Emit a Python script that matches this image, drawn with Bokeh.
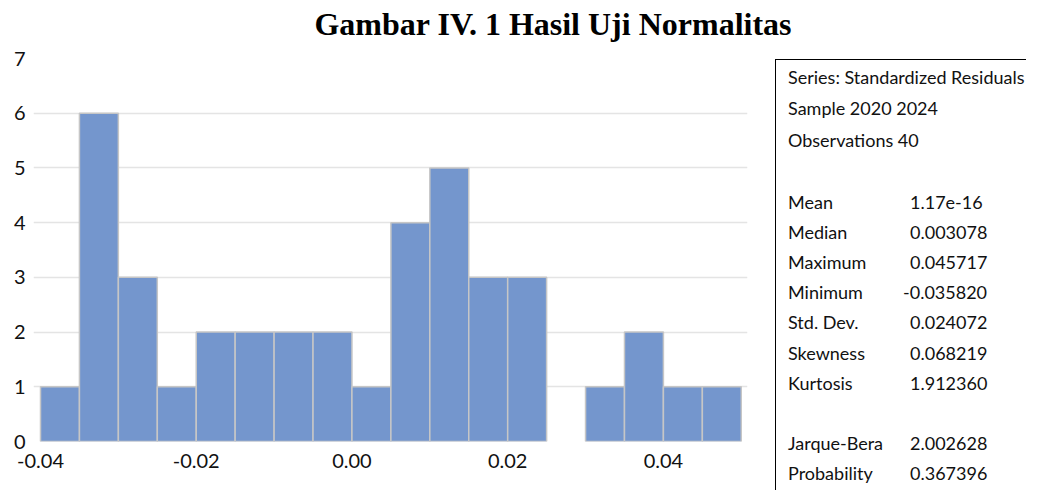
from bokeh.plotting import figure
from bokeh.layouts import column, row
from bokeh.models import FixedTicker, Div
from bokeh.embed import file_html
from bokeh.resources import INLINE

# ---- data ----
bin_left = [-0.040, -0.035, -0.030, -0.025, -0.020, -0.015, -0.010, -0.005, 0.000,
            0.005, 0.010, 0.015, 0.020, 0.025, 0.030, 0.035, 0.040, 0.045]
counts = [1, 6, 3, 1, 2, 2, 2, 2, 1, 4, 5, 3, 3, 0, 1, 2, 1, 1]
bin_width = 0.005
x_ticks = [-0.04, -0.02, 0.00, 0.02, 0.04]
x_tick_labels = ["-0.04", "-0.02", "0.00", "0.02", "0.04"]
y_ticks = [0, 1, 2, 3, 4, 5, 6, 7]
title_text = "Gambar IV. 1 Hasil Uji Normalitas"
header_lines = ["Series: Standardized Residuals", "Sample 2020 2024", "Observations 40"]
stat_names = ["Mean", "Median", "Maximum", "Minimum", "Std. Dev.", "Skewness", "Kurtosis",
              "Jarque-Bera", "Probability"]
stat_values = ["1.17e-16", "0.003078", "0.045717", "-0.035820", "0.024072", "0.068219",
               "1.912360", "2.002628", "0.367396"]

# ---- layout (picture pixel coordinates) ----
OX = 0          # horizontal offset of page content in the picture
W, H = 1021, 474
TH = 44         # title strip height
WA = 760        # histogram figure width
HA = H - TH
WB = W - WA
X0, X1 = -0.0409, 0.0508
FRAME_L, FRAME_R = 33, 747      # picture x of histogram frame
FRAME_T, FRAME_B = 57.6, 440.7  # picture y of histogram frame
TXT = "#111111"

# title strip
title_html = (
    f'<div style="position:relative;width:{W}px;height:{TH}px;">'
    f'<div style="position:absolute;left:{553 - OX}px;top:0px;transform:translateX(-50%);'
    f'white-space:nowrap;font-family:\'Liberation Serif\';font-weight:bold;font-size:32px;'
    f'line-height:32px;color:black;padding-top:8px;">{title_text}</div></div>'
)
ft = Div(text=title_html, width=W, height=TH, margin=0)

# histogram
fa = figure(width=WA, height=HA, x_range=(X0, X1), y_range=(0, 7),
            min_border_left=int(round(FRAME_L - OX)),
            min_border_right=int(round(OX + WA - FRAME_R)),
            min_border_top=int(round(FRAME_T - TH)),
            min_border_bottom=int(round(TH + HA - FRAME_B)),
            output_backend="svg", toolbar_location=None)
fa.outline_line_color = None
fa.background_fill_color = "white"
fa.border_fill_color = "white"
fa.xgrid.visible = False
fa.ygrid.grid_line_color = "#E4E4E4"
fa.ygrid.grid_line_width = 1.5
for ax in (fa.xaxis[0], fa.yaxis[0]):
    ax.axis_line_color = None
    ax.major_tick_line_color = None
    ax.minor_tick_line_color = None
    ax.major_tick_out = 0
    ax.major_tick_in = 0
    ax.minor_tick_out = 0
    ax.major_label_text_font = "Lato"
    ax.major_label_text_font_size = "20px"
    ax.major_label_text_color = TXT
fa.xaxis.ticker = FixedTicker(ticks=x_ticks)
fa.xaxis.major_label_overrides = {t: l for t, l in zip(x_ticks, x_tick_labels)}
fa.xaxis.major_label_standoff = 12
fa.yaxis.ticker = FixedTicker(ticks=y_ticks)
fa.yaxis.major_label_standoff = 8

lefts = [l for l, c in zip(bin_left, counts) if c > 0]
tops = [c for c in counts if c > 0]
fa.quad(left=lefts, right=[l + bin_width for l in lefts], bottom=0, top=tops,
        fill_color="#7496CD", line_color="#C6C6C6", line_width=1.5)

# stats box (HTML, positioned in picture coordinates)
bx0 = OX + WA      # picture x of div's left edge
by0 = TH           # picture y of div's top edge
CAP = 10.5         # distance from line-box top to cap centre (Lato 18px, line-height 20px)

def line(txt, px, py):
    return (f'<div style="position:absolute;left:{px - bx0}px;top:{py - by0 - CAP:.1f}px;'
            f'white-space:nowrap;font-family:Lato;font-size:18px;line-height:20px;'
            f'color:{TXT};">{txt}</div>')

parts = [f'<div style="position:absolute;left:{775 - bx0}px;top:{59 - by0}px;'
         f'width:{W + OX - 775 + 5}px;height:{HA + 20}px;border-left:1px solid black;'
         f'border-top:1px solid black;"></div>']
for t, yy in zip(header_lines, [77, 108.5, 140]):
    parts.append(line(t, 788, yy))
row_idx = [0, 1, 2, 3, 4, 5, 6, 8, 9]
for name, val, r in zip(stat_names, stat_values, row_idx):
    yy = 202 + 30.2 * r
    parts.append(line(name, 788, yy))
    parts.append(line(val, 903 if val.startswith("-") else 910, yy))
stats_html = (f'<div style="position:relative;width:{WB}px;height:{HA}px;overflow:visible;">'
              + "".join(parts) + '</div>')
fb = Div(text=stats_html, width=WB, height=HA, margin=0, styles={"overflow": "visible"})

layout = column(ft, row(fa, fb, spacing=0), spacing=0)
open("out.html", "w").write(file_html(layout, INLINE))
